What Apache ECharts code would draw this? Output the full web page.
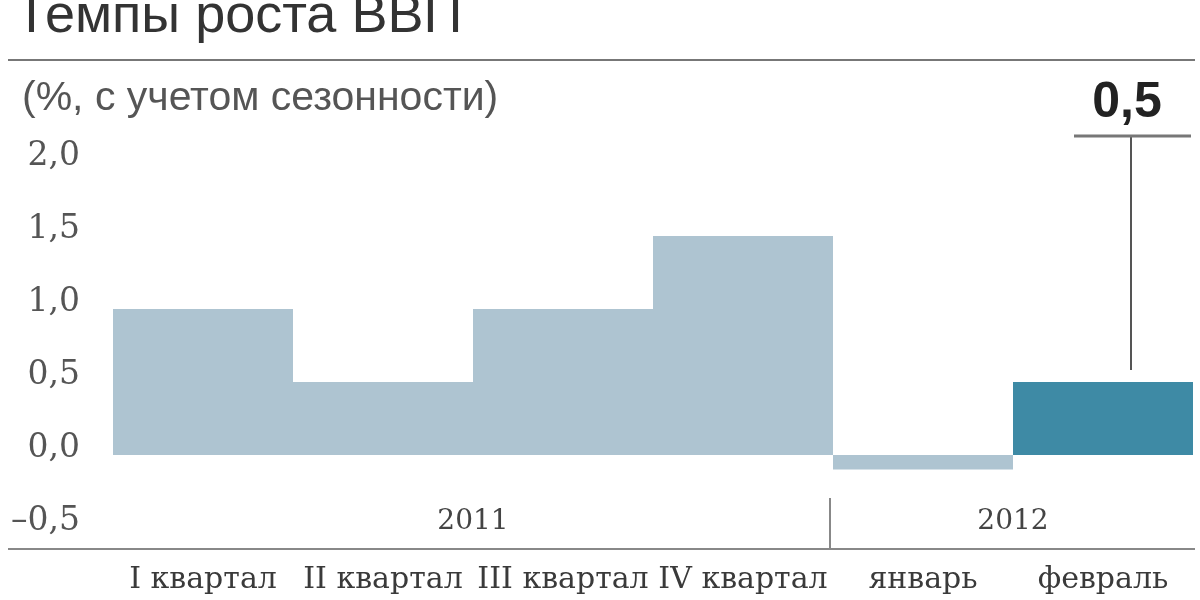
<!DOCTYPE html>
<html><head><meta charset="utf-8">
<script src="https://cdn.jsdelivr.net/npm/echarts@6/dist/echarts.min.js"></script>
<style>html,body{margin:0;padding:0;background:#fff}#c{width:1200px;height:600px}</style>
</head><body><div id="c"></div>
<script>
// ---- data ----
const titleText = 'Темпы роста ВВП';
const subtitleText = '(%, с учетом сезонности)';
const categories = ['I квартал', 'II квартал', 'III квартал', 'IV квартал', 'январь', 'февраль'];
const values = [1.0, 0.5, 1.0, 1.5, -0.1, 0.5];
const highlightIndex = 5;
const calloutLabel = '0,5';
const yearLabels = ['2011', '2012'];
const yearSpans = [[0, 3], [4, 5]];
const yMin = -0.5, yMax = 2.0, yInterval = 0.5;

// ---- styles ----
const lightColor = '#aec4d1';
const darkColor = '#3e8aa5';
const serif = '"DejaVu Serif", "Liberation Serif", serif';
const sans = '"Liberation Sans", Arial, sans-serif';

const chart = echarts.init(document.getElementById('c'));
chart.setOption({
  animation: false,
  grid: { left: 113, right: 7, top: 163, bottom: 72 },
  xAxis: {
    type: 'category',
    data: categories,
    axisLine: { show: false },
    axisTick: { show: false },
    splitLine: { show: false },
    axisLabel: {
      interval: 0, margin: 52, verticalAlign: 'middle',
      fontFamily: serif, fontSize: 30, color: '#3a3a3a'
    }
  },
  yAxis: {
    type: 'value', min: yMin, max: yMax, interval: yInterval,
    axisLine: { show: false }, axisTick: { show: false }, splitLine: { show: false },
    axisLabel: {
      margin: 33, fontFamily: serif, fontSize: 33, color: '#555',
      verticalAlign: 'bottom', lineHeight: 14,
      formatter: v => (v < 0 ? '–' : '') + Math.abs(v).toFixed(1).replace('.', ',')
    }
  },
  series: [{
    type: 'bar',
    data: values.map((v, i) => ({ value: v, itemStyle: { color: i === highlightIndex ? darkColor : lightColor } })),
    barWidth: '100%',
    barCategoryGap: '0%'
  }]
});

function px(i, v) { return chart.convertToPixel({ gridIndex: 0 }, [i, v]); }

const graphics = [];
graphics.push({ type: 'text', left: 15, top: -10, style: { text: titleText, font: '54px ' + sans, fill: '#333' } });
graphics.push({ type: 'text', left: 22, top: 78, style: { text: subtitleText, font: '41px ' + sans, fill: '#555' } });
graphics.push({ type: 'line', shape: { x1: 8, y1: 60, x2: 1195, y2: 60 }, style: { stroke: '#777', lineWidth: 2 } });
graphics.push({ type: 'line', shape: { x1: 8, y1: 549, x2: 1195, y2: 549 }, style: { stroke: '#888', lineWidth: 2 } });

const baseY = px(0, yMin)[1];
const halfBand = (px(1, 0)[0] - px(0, 0)[0]) / 2;
yearSpans.forEach((span, k) => {
  const xa = px(span[0], 0)[0], xb = px(span[1], 0)[0];
  const mid = ((xa - halfBand) + (xb + halfBand)) / 2;
  graphics.push({ type: 'text', x: mid, y: baseY - 6, style: { text: yearLabels[k], font: '28px ' + serif, fill: '#444', align: 'center', verticalAlign: 'middle' } });
});
const sepX = (px(yearSpans[0][1], 0)[0] + px(yearSpans[1][0], 0)[0]) / 2 - 3;
graphics.push({ type: 'line', shape: { x1: sepX, y1: 498, x2: sepX, y2: 549 }, style: { stroke: '#888', lineWidth: 2 } });

const barTop = px(highlightIndex, values[highlightIndex]);
const calloutX = barTop[0] + 28;
graphics.push({ type: 'line', shape: { x1: calloutX, y1: barTop[1] - 12, x2: calloutX, y2: 136 }, style: { stroke: '#555', lineWidth: 2 } });
graphics.push({ type: 'line', shape: { x1: calloutX - 57, y1: 136, x2: calloutX + 60, y2: 136 }, style: { stroke: '#777', lineWidth: 3 } });
graphics.push({ type: 'text', x: calloutX - 4, y: 103, style: { text: calloutLabel, font: 'bold 50px ' + sans, fill: '#222', align: 'center', verticalAlign: 'middle' } });

chart.setOption({ graphic: graphics });
</script>
</body></html>
